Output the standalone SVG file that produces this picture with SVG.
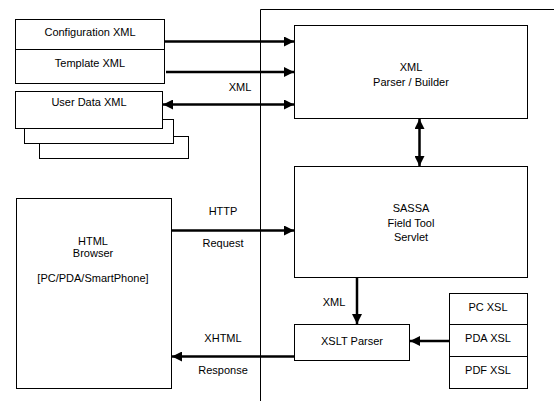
<svg xmlns="http://www.w3.org/2000/svg" width="554" height="401" viewBox="0 0 554 401">
<defs>
<style>
.b{fill:#fff;stroke:#000;stroke-width:1}
.t{font-family:"Liberation Sans",Arial,sans-serif;font-size:11px;fill:#000;text-anchor:middle}
.c{stroke:#000;stroke-width:2.5;fill:none}
</style>
<marker id="ah" viewBox="0 0 10 10" refX="10" refY="5" markerWidth="4.4" markerHeight="4" orient="auto-start-reverse" markerUnits="strokeWidth">
<path d="M0,0 L10,5 L0,10 Z" fill="#000"/>
</marker>
</defs>
<rect width="554" height="401" fill="#fff"/>
<g id="boundary">
<path d="M260.5,401 V9.5 H554" stroke="#000" stroke-width="1" fill="none"/>
</g>
<g id="config-xml">
<rect class="b" x="15.5" y="19.5" width="149" height="30"/>
<text class="t" x="90" y="36">Configuration XML</text>
</g>
<g id="template-xml">
<rect class="b" x="15.5" y="49.5" width="149" height="34"/>
<text class="t" x="90" y="67">Template XML</text>
</g>
<g id="user-data-xml">
<rect class="b" x="39.5" y="136.5" width="149" height="22"/>
<rect class="b" x="24.5" y="119.5" width="149" height="24"/>
<rect class="b" x="15.5" y="91.5" width="147" height="37"/>
<text class="t" x="89" y="106">User Data XML</text>
</g>
<g id="xml-parser">
<rect class="b" x="294.5" y="25.5" width="233" height="93"/>
<text class="t" x="411" y="71">XML</text>
<text class="t" x="411" y="86">Parser / Builder</text>
</g>
<g id="servlet">
<rect class="b" x="294.5" y="166.5" width="233" height="111"/>
<text class="t" x="411" y="212">SASSA</text>
<text class="t" x="411" y="227">Field Tool</text>
<text class="t" x="411" y="241">Servlet</text>
</g>
<g id="browser">
<rect class="b" x="16.5" y="198.5" width="155" height="190"/>
<text class="t" x="93" y="245">HTML</text>
<text class="t" x="93" y="257">Browser</text>
<text class="t" x="93" y="282">[PC/PDA/SmartPhone]</text>
</g>
<g id="xslt-parser">
<rect class="b" x="294.5" y="324.5" width="115" height="36"/>
<text class="t" x="352" y="345">XSLT Parser</text>
</g>
<g id="xsl-stack">
<rect class="b" x="449.5" y="293.5" width="78" height="31"/>
<rect class="b" x="449.5" y="324.5" width="78" height="32"/>
<rect class="b" x="449.5" y="356.5" width="78" height="32"/>
<text class="t" x="488" y="311">PC XSL</text>
<text class="t" x="488" y="342">PDA XSL</text>
<text class="t" x="488" y="374">PDF XSL</text>
</g>
<g id="connectors">
<line class="c" x1="164" y1="41.5" x2="294" y2="41.5" marker-end="url(#ah)"/>
<line class="c" x1="166" y1="72" x2="294" y2="72" marker-end="url(#ah)"/>
<line class="c" x1="163" y1="104.5" x2="294" y2="104.5" marker-start="url(#ah)" marker-end="url(#ah)"/>
<line class="c" x1="419.5" y1="119" x2="419.5" y2="166" marker-start="url(#ah)" marker-end="url(#ah)"/>
<line class="c" x1="172" y1="230.5" x2="294" y2="230.5" marker-end="url(#ah)"/>
<line class="c" x1="357" y1="278" x2="357" y2="324" marker-end="url(#ah)"/>
<line class="c" x1="449" y1="341" x2="410" y2="341" marker-end="url(#ah)"/>
<line class="c" x1="294" y1="356.5" x2="172" y2="356.5" marker-end="url(#ah)"/>
<text class="t" x="240" y="91">XML</text>
<text class="t" x="223" y="215">HTTP</text>
<text class="t" x="223" y="247">Request</text>
<text class="t" x="334" y="306">XML</text>
<text class="t" x="223" y="342">XHTML</text>
<text class="t" x="223" y="374">Response</text>
</g>
</svg>
